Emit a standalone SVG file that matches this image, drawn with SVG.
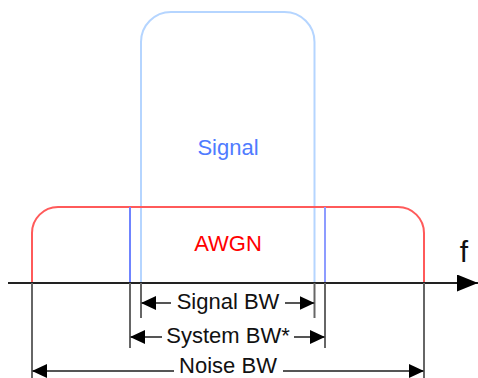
<svg xmlns="http://www.w3.org/2000/svg" width="478" height="378" viewBox="0 0 478 378">
<style>
.t{font-family:"Liberation Sans",Arial,sans-serif;font-size:22px;text-anchor:middle}
.dim{stroke:#555;stroke-width:2;fill:none}
.ext{stroke:#666;stroke-width:2;fill:none}
</style>
<defs>
<marker id="ah" viewBox="0 0 15 14" refX="15" refY="7" markerWidth="15" markerHeight="14" markerUnits="userSpaceOnUse" orient="auto-start-reverse">
<path d="M0,0 L15,7 L0,14 Z" fill="#000"/>
</marker>
<marker id="axh" viewBox="0 0 21 17" refX="21" refY="8.5" markerWidth="21" markerHeight="17" markerUnits="userSpaceOnUse" orient="auto">
<path d="M0,0 L21,8.5 L0,17 Z" fill="#000"/>
</marker>
</defs>
<g id="signal">
<path d="M141,283 V42 A30,30 0 0 1 171,12 H284.5 A30,30 0 0 1 314.5,42 V283" fill="none" stroke="#b5d5ff" stroke-width="2"/>
<text class="t" x="228" y="155" fill="#4f7bff" font-size="23">Signal</text>
</g>
<g id="awgn">
<path d="M32,283 V233 A26,26 0 0 1 58,207 H398 A26,26 0 0 1 424,233 V283" fill="none" stroke="#ff5a5a" stroke-width="2"/>
<text class="t" x="228" y="251" fill="#ff0000">AWGN</text>
</g>
<g id="system">
<line x1="130" y1="207" x2="130" y2="283" stroke="#6f84ff" stroke-width="2"/>
<line x1="325" y1="207" x2="325" y2="283" stroke="#8d9cff" stroke-width="2"/>
</g>
<g id="axis">
<line x1="8" y1="283" x2="478" y2="283" stroke="#222" stroke-width="2" marker-end="url(#axh)"/>
<text x="464" y="262" font-family="Liberation Sans,Arial,sans-serif" font-size="30" text-anchor="middle" fill="#111">f</text>
</g>
<g id="connectors">
<line class="ext" x1="141" y1="283" x2="141" y2="318"/>
<line class="ext" x1="314.5" y1="283" x2="314.5" y2="318"/>
<line class="ext" x1="130" y1="283" x2="130" y2="348"/>
<line class="ext" x1="325" y1="283" x2="325" y2="348"/>
<line class="ext" x1="32" y1="283" x2="32" y2="378"/>
<line class="ext" x1="424" y1="283" x2="424" y2="378"/>
<line class="dim" x1="171" y1="303" x2="141" y2="303" marker-end="url(#ah)"/>
<line class="dim" x1="285" y1="303" x2="314.5" y2="303" marker-end="url(#ah)"/>
<line class="dim" x1="162" y1="337" x2="130" y2="337" marker-end="url(#ah)"/>
<line class="dim" x1="294" y1="337" x2="325" y2="337" marker-end="url(#ah)"/>
<line class="dim" x1="174" y1="371" x2="32" y2="371" marker-end="url(#ah)"/>
<line class="dim" x1="283" y1="371" x2="424" y2="371" marker-end="url(#ah)"/>
</g>
<g id="labels">
<text class="t" x="228" y="309" fill="#111" font-size="23">Signal BW</text>
<text class="t" x="228" y="343" fill="#111" font-size="23">System BW*</text>
<text class="t" x="228" y="373" fill="#111" font-size="22">Noise BW</text>
</g>
</svg>
